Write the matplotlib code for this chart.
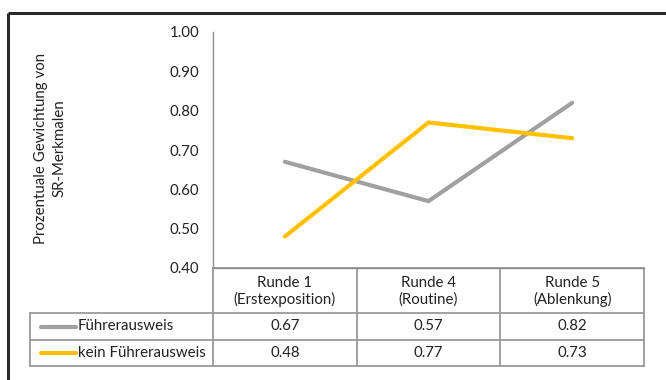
import matplotlib
matplotlib.use("Agg")
import matplotlib.pyplot as plt

# ---- data ----
categories = ["Runde 1\n(Erstexposition)", "Runde 4\n(Routine)", "Runde 5\n(Ablenkung)"]
series_names = ["Führerausweis", "kein Führerausweis"]
fuehrerausweis = [0.67, 0.57, 0.82]
kein_fuehrerausweis = [0.48, 0.77, 0.73]
yticks = [0.40, 0.50, 0.60, 0.70, 0.80, 0.90, 1.00]
ylabel = "Prozentuale Gewichtung von\nSR-Merkmalen"

plt.rcParams['font.family'] = ['Lato', 'DejaVu Sans']
FS = 10.8
TC = '#222222'

W, H = 666, 380
fig = plt.figure(figsize=(W / 100, H / 100), dpi=100)

# overlay in pixel coordinates for frame and table
ov = fig.add_axes([0, 0, 1, 1])
ov.set_xlim(0, W)
ov.set_ylim(H, 0)
ov.axis('off')

# outer frame (top and left visible)
ov.plot([8, W + 5], [13, 13], color='#2a2a2a', lw=2.2, solid_capstyle='butt')
ov.plot([8, 8], [13, H + 5], color='#2a2a2a', lw=2.2, solid_capstyle='butt')

ax_l, ax_r, ax_t, ax_b = 213, 644, 32, 268
ax = fig.add_axes([ax_l / W, 1 - ax_b / H, (ax_r - ax_l) / W, (ax_b - ax_t) / H])
ax.set_xlim(-0.5, len(categories) - 0.5)
ax.set_ylim(yticks[0], yticks[-1])
ax.set_yticks(yticks)
ax.set_yticklabels([f"{v:.2f}" for v in yticks], fontsize=FS, color=TC)
ax.set_xticks([])
ax.tick_params(axis='y', length=0, pad=10)
for s in ['top', 'right']:
    ax.spines[s].set_visible(False)
ax.spines['left'].set_color('#8c8c8c')
ax.spines['bottom'].set_color('#8c8c8c')
ax.spines['left'].set_linewidth(1.0)
ax.spines['bottom'].set_linewidth(1.0)
ax.patch.set_alpha(0)

colors = ['#a0a0a2', '#ffc000']
xs = list(range(len(categories)))
ax.plot(xs, fuehrerausweis, color=colors[0], lw=3.0, solid_capstyle='round', solid_joinstyle='miter')
ax.plot(xs, kein_fuehrerausweis, color=colors[1], lw=3.0, solid_capstyle='round', solid_joinstyle='miter')

fig.text(50 / W, 1 - 148 / H, ylabel, rotation=90, ha='center', va='center',
         multialignment='center', fontsize=FS, color=TC, linespacing=1.45)

# ---- data table ----
grid_c = '#9a9a9a'
glw = 1.3
col_w = (ax_r - ax_l) / len(categories)
col_edges = [ax_l + i * col_w for i in range(len(categories) + 1)]
row_edges = [268, 313, 340, 366]
leg_left = 30

for xe in col_edges:
    ov.plot([xe, xe], [row_edges[0], row_edges[-1]], color=grid_c, lw=glw)
ov.plot([leg_left, leg_left], [row_edges[1], row_edges[-1]], color=grid_c, lw=glw)
ov.plot([ax_l, ax_r], [row_edges[0], row_edges[0]], color=grid_c, lw=glw)
for ye in row_edges[1:]:
    ov.plot([leg_left, ax_r], [ye, ye], color=grid_c, lw=glw)

for i, cat in enumerate(categories):
    cx = (col_edges[i] + col_edges[i + 1]) / 2
    ov.text(cx, (row_edges[0] + row_edges[1]) / 2 + 1, cat, ha='center', va='center',
            multialignment='center', fontsize=FS, color=TC, linespacing=1.2)

series_vals = [fuehrerausweis, kein_fuehrerausweis]
for r, (name, vals) in enumerate(zip(series_names, series_vals)):
    cy = (row_edges[r + 1] + row_edges[r + 2]) / 2
    ov.plot([41, 76], [cy, cy], color=colors[r], lw=3.0, solid_capstyle='round')
    ov.text(78, cy, name, ha='left', va='center', fontsize=FS, color=TC)
    for i, v in enumerate(vals):
        cx = (col_edges[i] + col_edges[i + 1]) / 2
        ov.text(cx, cy, f"{v:.2f}", ha='center', va='center', fontsize=FS, color=TC)

fig.savefig('out.png', dpi=100)
